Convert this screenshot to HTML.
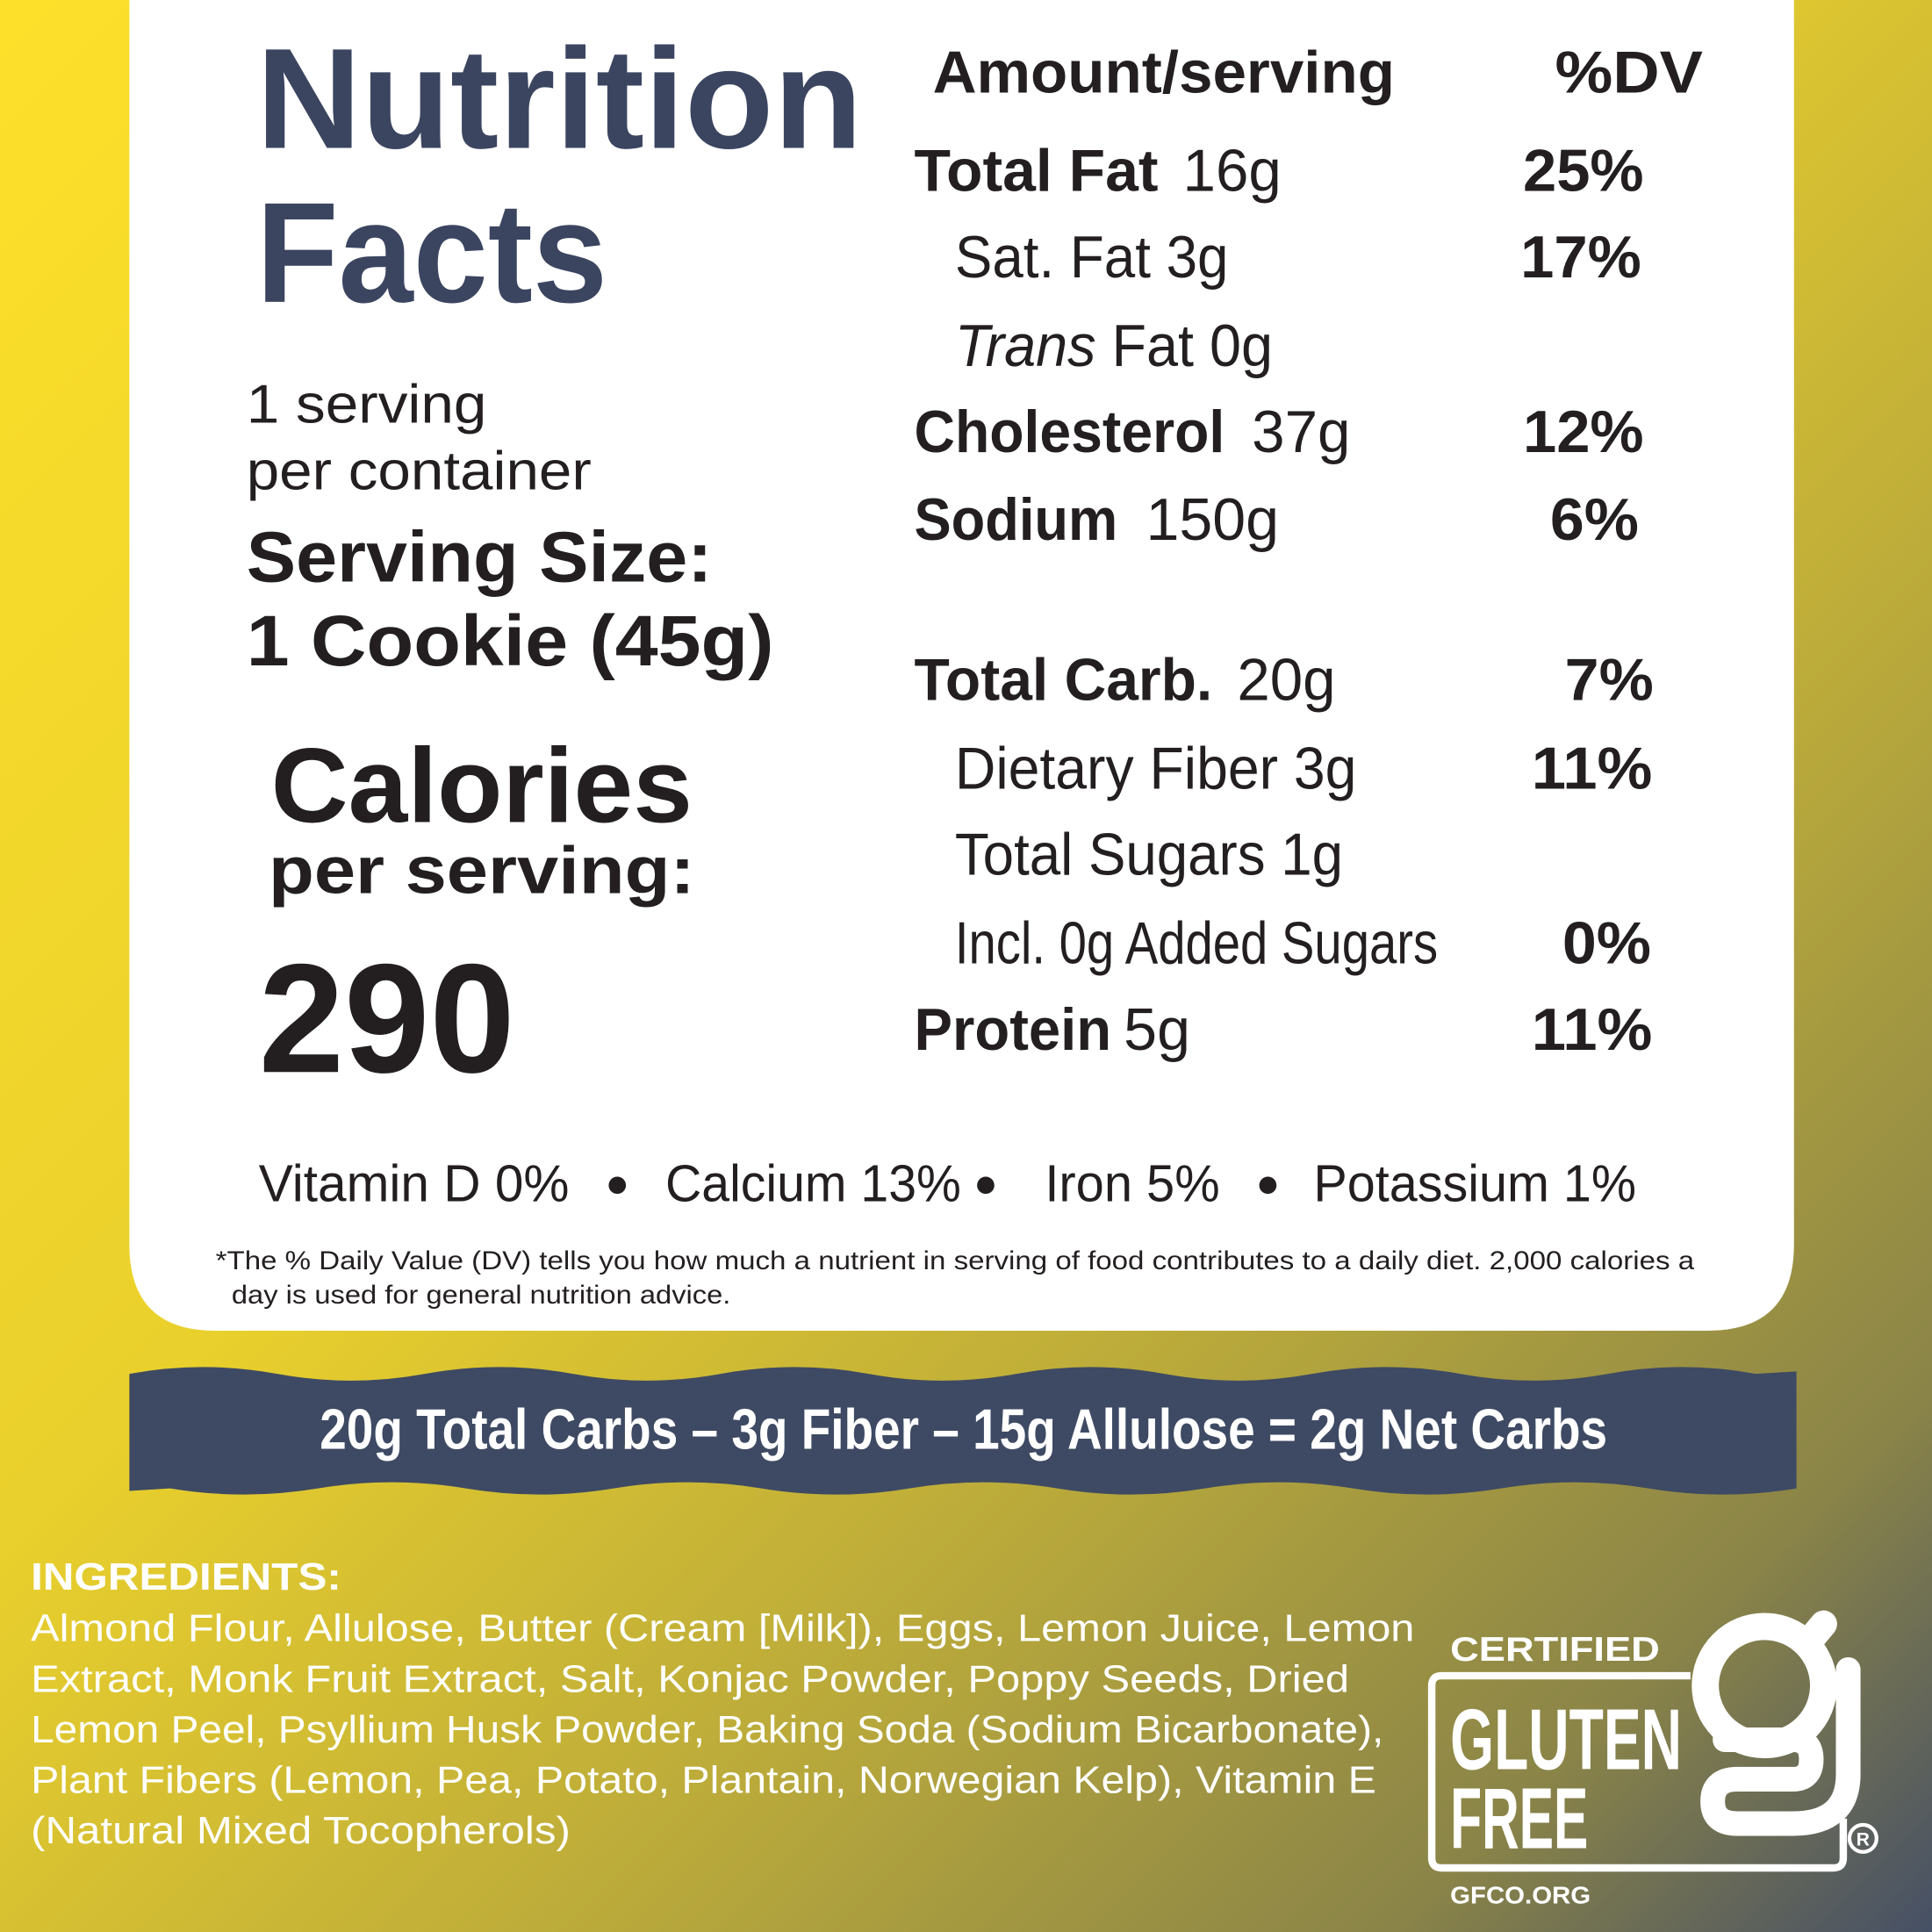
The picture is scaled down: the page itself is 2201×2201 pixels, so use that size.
<!DOCTYPE html>
<html><head><meta charset="utf-8"><style>
html,body{margin:0;padding:0;width:2201px;height:2201px;overflow:hidden;}
svg{display:block}
text{font-family:"Liberation Sans",sans-serif;}
</style></head><body>
<svg width="2201" height="2201" viewBox="0 0 1568 1568" xmlns="http://www.w3.org/2000/svg">
<defs>
<linearGradient id="bg" x1="0" y1="0" x2="1" y2="1">
<stop offset="0" stop-color="#fde02a"/>
<stop offset="0.4" stop-color="#ead02c"/>
<stop offset="0.66" stop-color="#b9a93b"/>
<stop offset="0.86" stop-color="#8a8448"/>
<stop offset="1" stop-color="#465066"/>
</linearGradient>
</defs>
<rect width="1568" height="1568" fill="url(#bg)"/>
<path d="M105 0 H1456 V1010 Q1456 1080 1386 1080 H175 Q105 1080 105 1010 Z" fill="#fff"/>
<path d="M105 1115 Q165 1104 225 1115 T345 1115 T465 1115 T585 1115 T705 1115 T825 1115 T945 1115 T1065 1115 T1185 1115 T1305 1115 T1425 1115 L1458 1113 V1208 Q1398 1218 1338 1208 T1218 1208 T1098 1208 T978 1208 T858 1208 T738 1208 T618 1208 T498 1208 T378 1208 T258 1208 T138 1208 L105 1210 Z" fill="#3e4a63"/>
<text x="782" y="1176" text-anchor="middle" fill="#fff" font-weight="bold" font-size="46" textLength="1045" lengthAdjust="spacingAndGlyphs">20g  Total Carbs  –  3g Fiber  –  15g Allulose = 2g Net Carbs</text>

<g fill="#3b4560" font-weight="bold">
<text x="208" y="120" font-size="116" textLength="492" lengthAdjust="spacingAndGlyphs">Nutrition</text>
<text x="208" y="245" font-size="116" textLength="285" lengthAdjust="spacingAndGlyphs">Facts</text>
</g>
<g fill="#231f20">
<text x="200" y="343" font-size="44" textLength="195" lengthAdjust="spacingAndGlyphs">1 serving</text>
<text x="200" y="397" font-size="44" textLength="280" lengthAdjust="spacingAndGlyphs">per container</text>
<text x="200" y="472" font-size="58" font-weight="bold" textLength="378" lengthAdjust="spacingAndGlyphs">Serving Size:</text>
<text x="200" y="540" font-size="58" font-weight="bold" textLength="428" lengthAdjust="spacingAndGlyphs">1 Cookie (45g)</text>
<text x="220" y="667" font-size="86" font-weight="bold" textLength="342" lengthAdjust="spacingAndGlyphs">Calories</text>
<text x="218" y="725" font-size="54" font-weight="bold" textLength="346" lengthAdjust="spacingAndGlyphs">per serving:</text>
<text x="210" y="870" font-size="126" font-weight="bold" textLength="208" lengthAdjust="spacingAndGlyphs">290</text>
</g>

<g fill="#231f20" font-size="48">
<text x="757" y="75" font-size="48" font-weight="bold" textLength="375" lengthAdjust="spacingAndGlyphs">Amount/serving</text>
<text x="1262" y="75" font-size="48" font-weight="bold" textLength="120" lengthAdjust="spacingAndGlyphs">%DV</text>
<text x="742" y="155" font-weight="bold" textLength="198" lengthAdjust="spacingAndGlyphs">Total Fat</text>
<text x="960" y="155" textLength="80" lengthAdjust="spacingAndGlyphs">16g</text>
<text x="1236" y="155" font-weight="bold" textLength="98" lengthAdjust="spacingAndGlyphs">25%</text>
<text x="775" y="225" textLength="222" lengthAdjust="spacingAndGlyphs">Sat. Fat  3g</text>
<text x="1234" y="225" font-weight="bold" textLength="98" lengthAdjust="spacingAndGlyphs">17%</text>
<text x="775" y="297" textLength="258" lengthAdjust="spacingAndGlyphs"><tspan font-style="italic">Trans</tspan> Fat  0g</text>
<text x="742" y="367" font-weight="bold" textLength="252" lengthAdjust="spacingAndGlyphs">Cholesterol</text>
<text x="1016" y="367" textLength="80" lengthAdjust="spacingAndGlyphs">37g</text>
<text x="1236" y="367" font-weight="bold" textLength="98" lengthAdjust="spacingAndGlyphs">12%</text>
<text x="742" y="438" font-weight="bold" textLength="165" lengthAdjust="spacingAndGlyphs">Sodium</text>
<text x="930" y="438" textLength="108" lengthAdjust="spacingAndGlyphs">150g</text>
<text x="1258" y="438" font-weight="bold" textLength="72" lengthAdjust="spacingAndGlyphs">6%</text>
<text x="742" y="568" font-weight="bold" textLength="242" lengthAdjust="spacingAndGlyphs">Total Carb.</text>
<text x="1004" y="568" textLength="80" lengthAdjust="spacingAndGlyphs">20g</text>
<text x="1270" y="568" font-weight="bold" textLength="72" lengthAdjust="spacingAndGlyphs">7%</text>
<text x="775" y="640" textLength="326" lengthAdjust="spacingAndGlyphs">Dietary Fiber  3g</text>
<text x="1243" y="640" font-weight="bold" textLength="98" lengthAdjust="spacingAndGlyphs">11%</text>
<text x="775" y="710" textLength="315" lengthAdjust="spacingAndGlyphs">Total Sugars 1g</text>
<text x="775" y="782" textLength="392" lengthAdjust="spacingAndGlyphs">Incl. 0g Added Sugars</text>
<text x="1268" y="782" font-weight="bold" textLength="72" lengthAdjust="spacingAndGlyphs">0%</text>
<text x="742" y="852" font-weight="bold" textLength="160" lengthAdjust="spacingAndGlyphs">Protein</text>
<text x="912" y="852" textLength="54" lengthAdjust="spacingAndGlyphs">5g</text>
<text x="1243" y="852" font-weight="bold" textLength="98" lengthAdjust="spacingAndGlyphs">11%</text>
</g>

<g fill="#231f20" font-size="42">
<text x="210" y="975" textLength="252" lengthAdjust="spacingAndGlyphs">Vitamin D 0%</text>
<circle cx="501" cy="962" r="7"/>
<text x="540" y="975" textLength="240" lengthAdjust="spacingAndGlyphs">Calcium 13%</text>
<circle cx="800" cy="962" r="7"/>
<text x="848" y="975" textLength="142" lengthAdjust="spacingAndGlyphs">Iron 5%</text>
<circle cx="1029" cy="962" r="7"/>
<text x="1066" y="975" textLength="262" lengthAdjust="spacingAndGlyphs">Potassium 1%</text>
</g>
<g fill="#231f20" font-size="21">
<text x="175" y="1030" textLength="1200" lengthAdjust="spacingAndGlyphs">*The % Daily Value (DV) tells you how much a nutrient in serving of food contributes to a daily diet. 2,000 calories a</text>
<text x="188" y="1058" textLength="405" lengthAdjust="spacingAndGlyphs">day is used for general nutrition advice.</text>
</g>

<g fill="#fff" font-size="31">
<text x="25" y="1290" font-weight="bold" textLength="252" lengthAdjust="spacingAndGlyphs">INGREDIENTS:</text>
<text x="25" y="1332" textLength="1123" lengthAdjust="spacingAndGlyphs">Almond Flour, Allulose, Butter (Cream [Milk]), Eggs, Lemon Juice, Lemon</text>
<text x="25" y="1373" textLength="1070" lengthAdjust="spacingAndGlyphs">Extract, Monk Fruit Extract, Salt, Konjac Powder, Poppy Seeds, Dried</text>
<text x="25" y="1414" textLength="1098" lengthAdjust="spacingAndGlyphs">Lemon Peel, Psyllium Husk Powder, Baking Soda (Sodium Bicarbonate),</text>
<text x="25" y="1455" textLength="1092" lengthAdjust="spacingAndGlyphs">Plant Fibers (Lemon, Pea, Potato, Plantain, Norwegian Kelp), Vitamin E</text>
<text x="25" y="1496" textLength="438" lengthAdjust="spacingAndGlyphs">(Natural Mixed Tocopherols)</text>
</g>

<g fill="#fff">
<text x="1177" y="1348" font-size="28" font-weight="bold" textLength="170" lengthAdjust="spacingAndGlyphs">CERTIFIED</text>
<path d="M1372 1360 H1170 Q1162 1360 1162 1368 V1508 Q1162 1516 1170 1516 H1488 Q1496 1516 1496 1508 V1476" fill="none" stroke="#fff" stroke-width="6"/>
<text x="1177" y="1436" font-size="70" font-weight="bold" textLength="188" lengthAdjust="spacingAndGlyphs">GLUTEN</text>
<text x="1177" y="1500" font-size="70" font-weight="bold" textLength="112" lengthAdjust="spacingAndGlyphs">FREE</text>
<circle cx="1432" cy="1368" r="48" fill="none" stroke="#fff" stroke-width="22"/>
<path d="M1470 1330 L1480 1318" stroke="#fff" stroke-width="22" stroke-linecap="round"/>
<path d="M1500 1355 V1440 Q1500 1480 1455 1480 H1410 Q1390 1480 1390 1462 Q1390 1444 1410 1444 H1455 Q1470 1444 1470 1428 Q1470 1412 1455 1412 H1400" fill="none" stroke="#fff" stroke-width="20" stroke-linecap="round"/>
<text x="1177" y="1545" font-size="20" font-weight="bold" textLength="114" lengthAdjust="spacingAndGlyphs">GFCO.ORG</text>
<circle cx="1512" cy="1492" r="11" fill="none" stroke="#fff" stroke-width="3"/>
<text x="1512" y="1498" font-size="15" font-weight="bold" text-anchor="middle">R</text>
</g>
</svg>
</body></html>
